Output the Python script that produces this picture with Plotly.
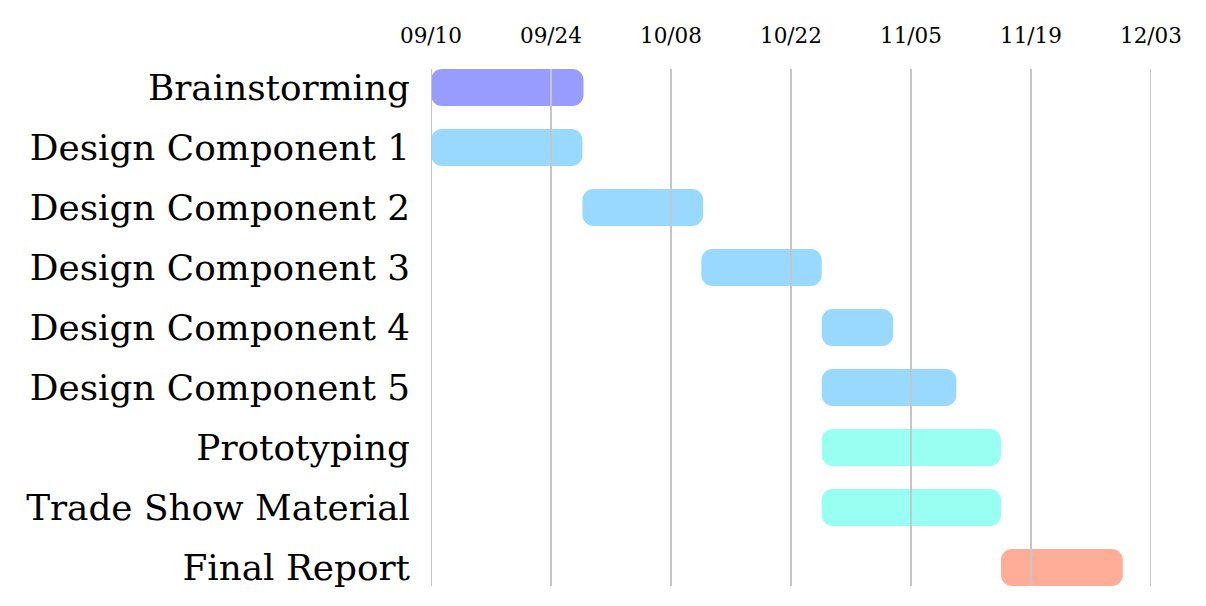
import pandas as pd
import plotly.graph_objects as go

# ---- data ----
tasks = ["Brainstorming", "Design Component 1", "Design Component 2",
         "Design Component 3", "Design Component 4", "Design Component 5",
         "Prototyping", "Trade Show Material", "Final Report"]
starts = ["2023-09-10 00:00", "2023-09-10 00:00", "2023-09-27 16:00",
          "2023-10-11 13:00", "2023-10-25 14:00", "2023-10-25 14:00",
          "2023-10-25 14:00", "2023-10-25 14:00", "2023-11-15 12:00"]
ends = ["2023-09-27 19:00", "2023-09-27 16:00", "2023-10-11 18:00",
        "2023-10-25 14:00", "2023-11-02 22:00", "2023-11-10 07:00",
        "2023-11-15 12:00", "2023-11-15 12:00", "2023-11-29 17:00"]
tick_dates = ["2023-09-10", "2023-09-24", "2023-10-08", "2023-10-22",
              "2023-11-05", "2023-11-19", "2023-12-03"]
tick_labels = ["09/10", "09/24", "10/08", "10/22", "11/05", "11/19", "12/03"]

# ---- style ----
colors = ["#999cff", "#99d9ff", "#99d9ff", "#99d9ff", "#99d9ff", "#99d9ff",
          "#99fff2", "#99fff2", "#ffad99"]
FONT = "DejaVu Serif"
BAR_W = 0.617
RADIUS = 11

s = pd.to_datetime(starts)
e = pd.to_datetime(ends)
dur_ms = [(b - a).total_seconds() * 1000 for a, b in zip(s, e)]

fig = go.Figure()
fig.add_trace(go.Bar(
    y=tasks, base=starts, x=dur_ms,
    orientation="h", width=BAR_W,
    marker=dict(color=colors, line_width=0, cornerradius=RADIUS),
    hoverinfo="skip", showlegend=False))

for d in tick_dates:
    fig.add_shape(type="line", xref="x", yref="paper", x0=d, x1=d, y0=0, y1=1,
                  line=dict(color="#c6c6c6", width=2), layer="above")

fig.update_layout(
    width=1206, height=606,
    margin=dict(l=431, r=55, t=69, b=20),
    paper_bgcolor="white", plot_bgcolor="white",
    barmode="overlay",
    font=dict(family=FONT, color="black"),
)
fig.update_xaxes(
    type="date", side="top", range=[tick_dates[0], tick_dates[-1]],
    tickvals=tick_dates, ticktext=tick_labels, tickfont=dict(size=21.5, family=FONT),
    showgrid=False, zeroline=False, showline=False, ticks="",
    ticklabelstandoff=21,
)
fig.update_yaxes(
    type="category", categoryorder="array", categoryarray=tasks,
    range=[len(tasks) - 1 + BAR_W / 2, -BAR_W / 2],
    tickfont=dict(size=35.8, family=FONT),
    showgrid=False, zeroline=False, showline=False, ticks="",
    ticklabelstandoff=20,
)

fig.write_html("out.html")
